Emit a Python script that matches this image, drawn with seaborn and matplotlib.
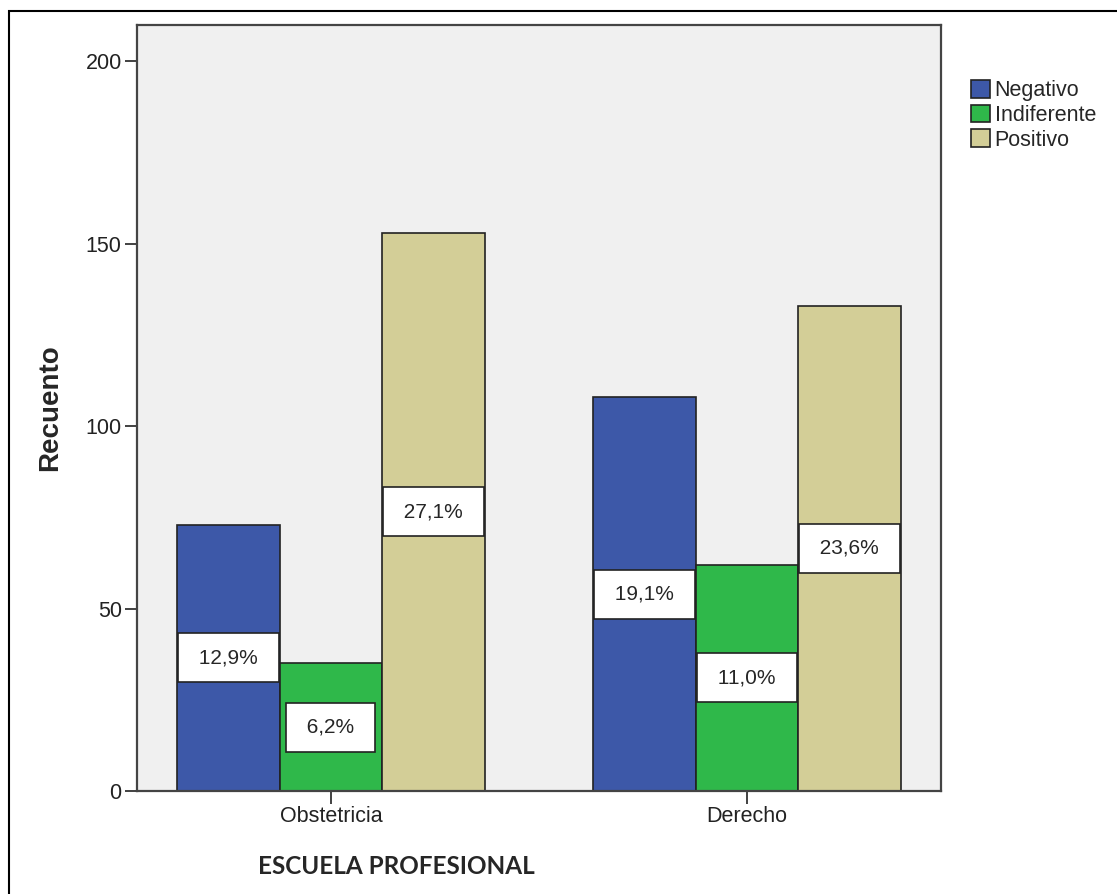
import matplotlib.pyplot as plt
import pandas as pd
import seaborn as sns
from matplotlib.patches import Patch, Rectangle

# Datos
escuelas = ["Obstetricia", "Derecho"]
actitudes = ["Negativo", "Indiferente", "Positivo"]
recuento_negativo = [73, 108]
recuento_indiferente = [35, 62]
recuento_positivo = [153, 133]
colores = ["#3d58a8", "#2fb84a", "#d3ce97"]

df = pd.DataFrame({
    "escuela": escuelas * 3,
    "actitud": [a for a in actitudes for _ in escuelas],
    "recuento": recuento_negativo + recuento_indiferente + recuento_positivo,
})
total = df["recuento"].sum()
palette = dict(zip(actitudes, colores))

sns.set_style("white")
plt.rcParams["font.family"] = ["Liberation Sans", "DejaVu Sans"]

fig = plt.figure(figsize=(11.17, 8.94), dpi=100)
ax = fig.add_axes([137 / 1117, 1 - 791 / 894, 804 / 1117, 766 / 894])
ax.set_facecolor("#f0f0f0")

sns.barplot(
    data=df, x="escuela", y="recuento", hue="actitud",
    order=escuelas, hue_order=actitudes, palette=palette,
    width=0.74, gap=0, edgecolor="#222222", linewidth=1.2,
    saturation=1, errorbar=None, legend=False, ax=ax,
)

for cont in ax.containers:
    etiquetas = [" " + f"{b.get_height() / total * 100:.1f}".replace(".", ",") + "% " for b in cont]
    ax.bar_label(
        cont, labels=etiquetas, label_type="center", fontsize=15,
        bbox=dict(boxstyle="square,pad=0.72", facecolor="white", edgecolor="#222222", linewidth=1.2),
    )

ax.set_xlim(-0.466, 1.466)
ax.set_ylim(0, 210)
ax.set_yticks([0, 50, 100, 150, 200])
ax.tick_params(axis="both", direction="out", length=9, width=1.3, color="#333333",
               labelsize=15.5, labelcolor="#222222", pad=2, left=True, bottom=True)
for s in ax.spines.values():
    s.set_color("#444444")
    s.set_linewidth(1.6)

ax.set_xlabel("")
ax.set_ylabel("Recuento", fontsize=20, fontweight="bold")
ax.yaxis.set_label_coords(-0.092, 0.5)

fig.text(396 / 1117, 1 - 866 / 894, "ESCUELA PROFESIONAL", ha="center", va="center",
         fontsize=17.5, fontweight="bold", family=["Lato", "DejaVu Sans"])

handles = [Patch(facecolor=palette[a], edgecolor="#222222", linewidth=1.2) for a in actitudes]
fig.legend(handles, actitudes, loc="upper left", bbox_to_anchor=(971 / 1117, 1 - 80 / 894),
           frameon=False, fontsize=15.5, handlelength=0.9, handleheight=0.9,
           handletextpad=0.2, labelspacing=0.15, borderpad=0, borderaxespad=0)

# borde exterior
fig.add_artist(Rectangle((9 / 1117, -0.1), 1.2, 1.1 - 11 / 894, transform=fig.transFigure,
                         fill=False, edgecolor="black", linewidth=1.5))

fig.savefig("out.png", dpi=100)
